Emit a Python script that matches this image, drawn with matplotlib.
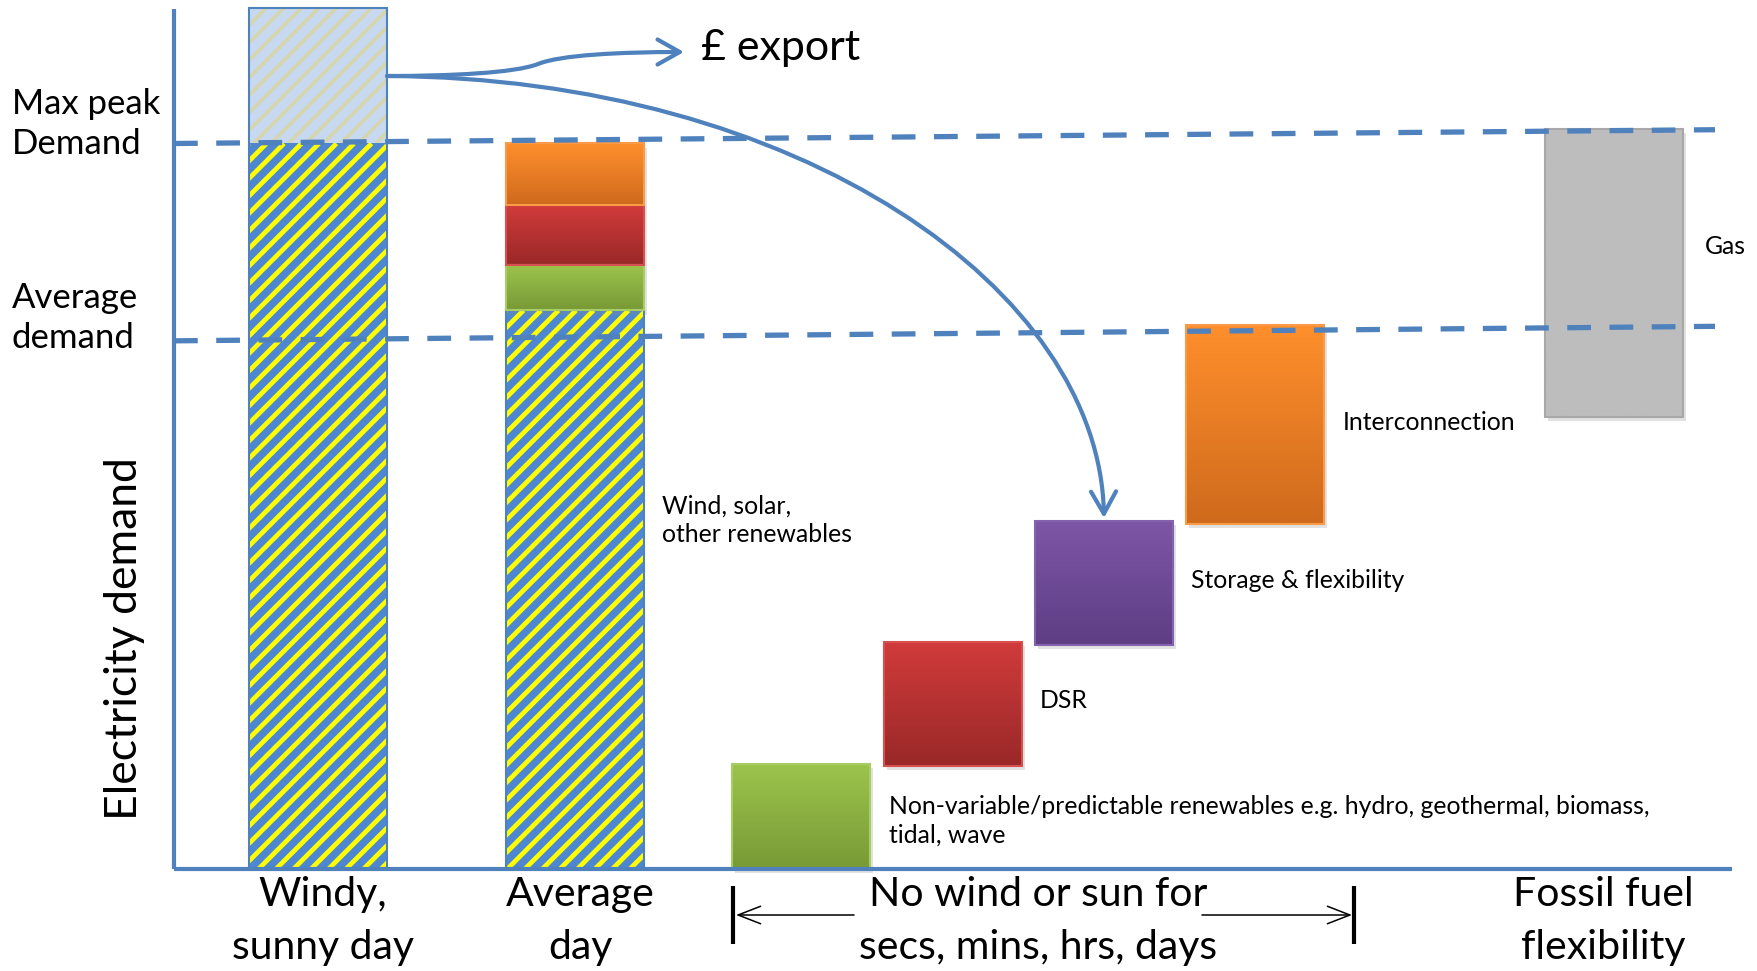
"""Electricity demand vs flexibility sources — schematic recreated with matplotlib."""
import matplotlib
import numpy as np

matplotlib.use("Agg")
import matplotlib.pyplot as plt  # noqa: E402
from matplotlib.patches import Rectangle, FancyArrowPatch  # noqa: E402
from matplotlib.path import Path  # noqa: E402
from matplotlib.colors import to_rgb  # noqa: E402

plt.rcParams["font.family"] = ["Lato", "DejaVu Sans"]

# ---- data (demand units, max peak demand = 100) ----
scenario_labels = ["Windy,\nsunny day", "Average\nday"]
renewable_supply = [118.7, 77.0]          # hatched wind/solar bars
peak_demand = [100.0, 101.9]              # dashed line, left / right end
average_demand = [72.8, 74.8]

avg_stack_labels = ["green", "red", "orange"]
avg_stack_heights = [6.3, 8.2, 8.5]       # stacked on top of average-day renewables

flex_labels = ["Non-variable/predictable renewables e.g. hydro, geothermal, biomass,\ntidal, wave",
               "DSR", "Storage & flexibility", "Interconnection", "Gas"]
flex_bottom = [0.0, 14.2, 30.9, 47.6, 62.3]
flex_top = [14.5, 31.3, 48.0, 75.0, 102.0]

group_labels = ["No wind or sun for\nsecs, mins, hrs, days", "Fossil fuel\nflexibility"]

# ---- layout (pixel-based x, demand-based y) ----
W, H = 1758, 971
BASE_PX, PX_PER_UNIT = 869, 7.255
BAR_W = 138
scenario_x = [318, 575]
flex_x = [801.5, 953, 1104, 1255, 1614.5]
BLUE = "#4F81BD"
top_cols = {"green": "#9CC44C", "red": "#D13B3B", "orange": "#FF8F2C",
            "purple": "#7E56A7", "gray": "#BDBDBD"}
bot_cols = {"green": "#789A36", "red": "#9A2828", "orange": "#CF6A1C",
            "purple": "#5E3E84", "gray": "#BDBDBD"}
edge_cols = {"green": "#A8CC66", "red": "#D65050", "orange": "#F99A48",
             "purple": "#8462AE", "gray": "#A8A8A8"}
flex_cols = ["green", "red", "purple", "orange", "gray"]


def yd(px):
    """pixel row -> demand units"""
    return (BASE_PX - px) / PX_PER_UNIT


fig = plt.figure(figsize=(W / 100, H / 100), dpi=100)
ax = fig.add_axes([0, 0, 1, 1])
ax.set_xlim(0, W)
ax.set_ylim(yd(H), yd(0))
ax.axis("off")


def gradient_box(xc, y0, y1, key, z=3):
    x0 = xc - BAR_W / 2
    # soft drop shadow
    ax.add_patch(Rectangle((x0 + 3, y0 - 0.6), BAR_W, y1 - y0, color="0.55",
                           alpha=0.25, lw=0, zorder=z - 1))
    c0, c1 = np.array(to_rgb(top_cols[key])), np.array(to_rgb(bot_cols[key]))
    t = np.linspace(0, 1, 64)[:, None, None]
    img = c0 * (1 - t) + c1 * t
    ax.imshow(img, extent=(x0, x0 + BAR_W, y0, y1), aspect="auto",
              origin="upper", zorder=z, interpolation="bilinear")
    ax.add_patch(Rectangle((x0, y0), BAR_W, y1 - y0, fill=False,
                           ec=edge_cols[key], lw=1.5, zorder=z + 0.1))


def striped_box(x0, y0, y1, face, stripe, lw=3.4, spacing=17.5, slope=1.0, z=2):
    box = Rectangle((x0, y0), BAR_W, y1 - y0, fc=face, lw=0, zorder=z)
    ax.add_patch(box)
    hpx = (y1 - y0) * PX_PER_UNIT
    run = hpx / slope
    for o in np.arange(-run - spacing, BAR_W + spacing, spacing):
        ln, = ax.plot([x0 + o, x0 + o + run], [y0, y1], color=stripe, lw=lw,
                      zorder=z + 0.05, solid_capstyle="butt")
        ln.set_clip_path(box)


# hatched renewable bars
for xc, top in zip(scenario_x, renewable_supply):
    x0 = xc - BAR_W / 2
    body = min(top, peak_demand[0])
    striped_box(x0, 0, body, "#4D87D2", "#FFFF00")
    if top > peak_demand[0]:
        striped_box(x0, body, top, "#C7D9F0", "#D6D5AE", lw=2.6)
    ax.add_patch(Rectangle((x0, 0), BAR_W, top, fill=False, ec=BLUE, lw=1.5,
                           zorder=2.5))

# stacked extras on the average day
base = renewable_supply[1]
for key, h in zip(avg_stack_labels, avg_stack_heights):
    gradient_box(scenario_x[1], base, base + h, key)
    base += h

# flexibility sources
for xc, b, t, key in zip(flex_x, flex_bottom, flex_top, flex_cols):
    gradient_box(xc, b, t, key)

# demand reference lines
for vals in (peak_demand, average_demand):
    ax.plot([174, 1715], vals, color=BLUE, lw=3.8, ls=(0, (4.5, 3.5)), zorder=6,
            solid_capstyle="butt")

# axes lines
ax.plot([174, 174], [0, yd(9)], color=BLUE, lw=3, zorder=7, solid_capstyle="butt")
ax.plot([174, 1732], [0, 0], color=BLUE, lw=3, zorder=7, solid_capstyle="butt")

# export and re-use arrows from the surplus
start = (387, yd(76))
export = Path([start, (450, yd(76)), (515, yd(73)), (538, yd(64)),
               (560, yd(55)), (620, yd(52)), (684, yd(52))],
              [Path.MOVETO, Path.CURVE4, Path.CURVE4, Path.CURVE4,
               Path.CURVE4, Path.CURVE4, Path.CURVE4])
reuse = Path([start, (800, yd(78)), (1100, yd(290)), (1104, yd(518))],
             [Path.MOVETO, Path.CURVE4, Path.CURVE4, Path.CURVE4])
for p in (export, reuse):
    ax.add_patch(FancyArrowPatch(path=p, arrowstyle="->,head_length=0.8,head_width=0.45",
                                 mutation_scale=20, color=BLUE, lw=3, zorder=8))

# bottom range bracket
for xv in (733, 1354):
    ax.plot([xv, xv], [yd(886), yd(944)], color="black", lw=3, zorder=7,
            solid_capstyle="butt")
for x_from, x_to in ((854, 736), (1202, 1352)):
    ax.annotate("", xy=(x_to, yd(915)), xytext=(x_from, yd(915)),
                arrowprops=dict(arrowstyle="->,head_length=0.9,head_width=0.35",
                                color="black", lw=1.1, shrinkA=0, shrinkB=0,
                                mutation_scale=18))

# text
side = 25
ax.text(12, yd(124), "Max peak\nDemand", fontsize=side, va="center", ha="left",
        linespacing=1.32)
ax.text(12, yd(318), "Average\ndemand", fontsize=side, va="center", ha="left",
        linespacing=1.32)
ax.text(701, yd(48), "£ export", fontsize=31, va="center", ha="left")
ax.text(125, yd(639), "Electricity demand", fontsize=32, rotation=90,
        va="center", ha="center")

bottom = 29.5
for xc, lab in zip(scenario_x, scenario_labels):
    ax.text(xc + 5, yd(921), lab, fontsize=bottom, ha="center", va="center",
            linespacing=1.55)
ax.text(1038, yd(921), group_labels[0], fontsize=bottom, ha="center", va="center",
        linespacing=1.55)
ax.text(1603, yd(921), group_labels[1], fontsize=bottom, ha="center", va="center",
        linespacing=1.55)

small = 17.8
ax.text(662, yd(520), "Wind, solar,\nother renewables", fontsize=small,
        va="center", ha="left", linespacing=1.3)
label_pos = [(889, 821), (1040, 700), (1191, 580), (1343, 422), (1705, 247)]
for (lx, ly), lab in zip(label_pos, flex_labels):
    ax.text(lx, yd(ly), lab, fontsize=small, va="center", ha="left",
            linespacing=1.3)

fig.savefig("out.png", dpi=100)
